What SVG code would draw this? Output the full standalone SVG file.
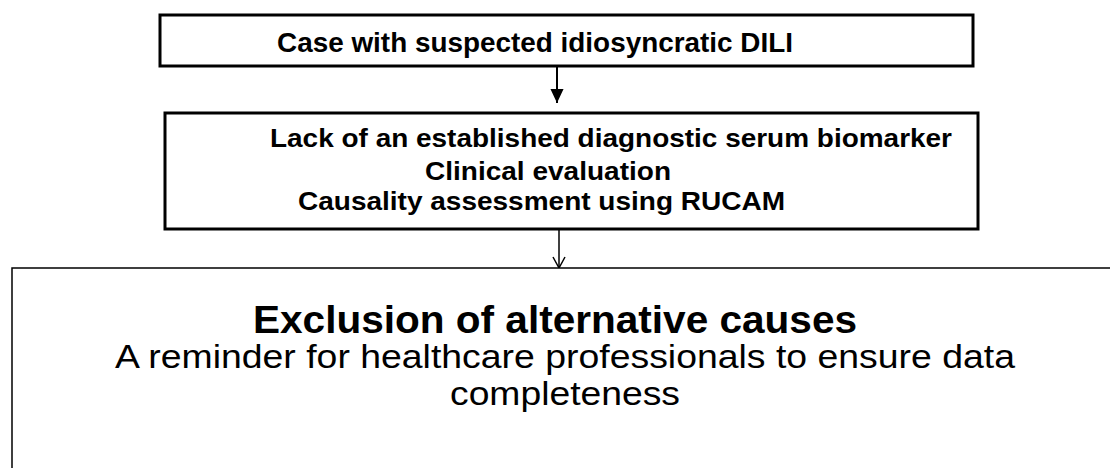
<svg xmlns="http://www.w3.org/2000/svg" width="1110" height="468" viewBox="0 0 1110 468">
<defs>
<style>
.box{fill:#fff;stroke:#000}
.b{font-family:"Liberation Sans",Arial,sans-serif;font-weight:bold;fill:#000}
.r{font-family:"Liberation Sans",Arial,sans-serif;fill:#000}
</style>
<marker id="solid" markerWidth="14" markerHeight="15" viewBox="0 0 15 14" refX="15" refY="7" orient="auto" markerUnits="userSpaceOnUse">
<path d="M0,0 L15,7 L0,14 Z" fill="#000"/>
</marker>
<marker id="open" markerWidth="14" markerHeight="14" viewBox="0 0 12 14" refX="11" refY="7" orient="auto" markerUnits="userSpaceOnUse">
<path d="M0,1 L11,7 L0,13" fill="none" stroke="#000" stroke-width="1.5"/>
</marker>
</defs>
<rect width="1110" height="468" fill="#fff"/>
<g id="connectors">
<line x1="557" y1="66" x2="557" y2="103" stroke="#000" stroke-width="2" marker-end="url(#solid)"/>
<line x1="559" y1="229" x2="559" y2="268" stroke="#000" stroke-width="1.5" marker-end="url(#open)"/>
</g>
<g id="node1">
<rect class="box" x="160" y="15" width="813" height="51" stroke-width="3"/>
<text class="b" x="277" y="52" font-size="27" textLength="516" lengthAdjust="spacingAndGlyphs">Case with suspected idiosyncratic DILI</text>
</g>
<g id="node2">
<rect class="box" x="165" y="113" width="813" height="116" stroke-width="3"/>
<text class="b" x="270" y="147" font-size="26" textLength="682" lengthAdjust="spacingAndGlyphs">Lack of an established diagnostic serum biomarker</text>
<text class="b" x="425" y="180" font-size="26" textLength="246" lengthAdjust="spacingAndGlyphs">Clinical evaluation</text>
<text class="b" x="298" y="210" font-size="26" textLength="487" lengthAdjust="spacingAndGlyphs">Causality assessment using RUCAM</text>
</g>
<g id="node3">
<rect class="box" x="12" y="268" width="1110" height="220" stroke-width="1.5"/>
<text class="b" x="253" y="333" font-size="39" textLength="604" lengthAdjust="spacingAndGlyphs">Exclusion of alternative causes</text>
<text class="r" x="115" y="368" font-size="34" textLength="900" lengthAdjust="spacingAndGlyphs">A reminder for healthcare professionals to ensure data</text>
<text class="r" x="450" y="405" font-size="34" textLength="230" lengthAdjust="spacingAndGlyphs">completeness</text>
</g>
</svg>
